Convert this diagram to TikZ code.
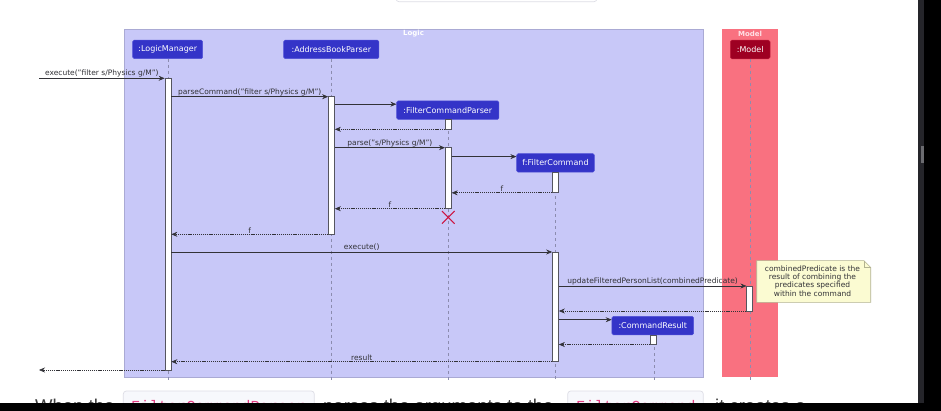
\documentclass[tikz,border=0pt]{standalone}
\usepackage{fontspec}
\setmainfont{DejaVu Sans}
\newfontfamily\pagefont{Liberation Sans}
\newfontfamily\codefont{Liberation Mono}
\usetikzlibrary{arrows.meta}

\definecolor{logicbg}{RGB}{200,200,248}
\definecolor{logicline}{RGB}{170,170,212}
\definecolor{modelbg}{RGB}{249,113,128}
\definecolor{modeltitle}{RGB}{255,225,230}
\definecolor{hdrblue}{RGB}{52,52,200}
\definecolor{hdrblueline}{RGB}{80,80,215}
\definecolor{hdrred}{RGB}{158,0,34}
\definecolor{hdrredline}{RGB}{190,30,60}
\definecolor{lifegray}{RGB}{140,140,175}
\definecolor{msgcol}{RGB}{50,50,55}
\definecolor{actline}{RGB}{85,85,95}
\definecolor{killred}{RGB}{205,20,65}
\definecolor{notebg}{RGB}{251,251,210}
\definecolor{noteline}{RGB}{178,178,145}
\definecolor{pagetext}{RGB}{60,60,60}
\definecolor{codebg}{RGB}{247,248,252}
\definecolor{codeline}{RGB}{222,222,230}
\definecolor{codepink}{RGB}{226,62,130}
\definecolor{scrollbg}{RGB}{37,37,42}
\definecolor{scrollthumb}{RGB}{108,108,112}

\tikzset{
  participant/.style={rectangle, rounded corners=1.5pt, inner sep=0pt,
    minimum height=18.6pt, text=white, font=\fontsize{8}{9}\selectfont},
  blueparticipant/.style={participant, fill=hdrblue, draw=hdrblueline, line width=0.5pt},
  redparticipant/.style={participant, fill=hdrred, draw=hdrredline, line width=0.5pt},
  actbox/.style={rectangle, draw=actline, fill=white, line width=0.7pt,
    inner sep=0pt, minimum width=6pt},
  lifeline/.style={draw=lifegray, dash pattern=on 3pt off 3pt, line width=0.5pt},
  msg/.style={draw=msgcol, line width=0.6pt,
    -{Stealth[length=6pt,width=5pt,inset=2pt]}},
  ret/.style={msg, dash pattern=on 1.2pt off 0.9pt},
  lbl/.style={font=\fontsize{7.5}{8}\selectfont, text=msgcol, inner sep=0.8pt, above},
  grouptitle/.style={font=\bfseries\fontsize{7}{8}\selectfont, inner sep=0pt},
  pagetxt/.style={anchor=base west, inner sep=0pt, text=pagetext,
    font=\pagefont\fontsize{18.5}{20}\selectfont},
  codetxt/.style={anchor=base west, inner sep=0pt, text=codepink,
    font=\codefont\fontsize{15.3}{17}\selectfont},
  codebox/.style={draw=codeline, fill=codebg, rounded corners=3pt, line width=0.7pt}
}

\begin{document}
\begin{tikzpicture}[x=1pt,y=-1pt]
\useasboundingbox (0,0) rectangle (941,411);
\fill[white] (0,0) rectangle (941,411);

% bottom edge of a box above the figure
\draw[draw=codeline, rounded corners=3pt, line width=0.7pt] (396,-10) rectangle (597,1.7);

% package frames
\draw[fill=logicbg, draw=logicline, line width=0.6pt] (124,29) rectangle (703,377.3);
\node[grouptitle, text=white] (logictitle) at (413.5,33.5) {Logic};
\fill[modelbg] (722,29) rectangle (778,377.3);
\node[grouptitle, text=modeltitle] (modeltitle) at (750,33.5) {Model};

% lifelines
\draw[lifeline] (168,58.7) -- (168,381);
\draw[lifeline] (331.5,58.7) -- (331.5,381);
\draw[lifeline] (448.3,119.3) -- (448.3,381);
\draw[lifeline] (555.5,172.4) -- (555.5,381);
\draw[lifeline] (653.8,335) -- (653.8,381);
\draw[lifeline] (750,59) -- (750,381);

% participants
\node[blueparticipant, minimum width=70pt] (lm) at (167.7,49.4) {:LogicManager};
\node[blueparticipant, minimum width=95.3pt] (abp) at (331.3,49.4) {:AddressBookParser};
\node[blueparticipant, minimum width=102.3pt] (fcp) at (447.8,110.2) {:FilterCommandParser};
\node[blueparticipant, minimum width=77.7pt] (fc) at (555.5,162.9) {f:FilterCommand};
\node[blueparticipant, minimum width=81.7pt] (cr) at (652.8,325.6) {:CommandResult};
\node[redparticipant, minimum width=39.7pt] (mdl) at (750.2,49.5) {:Model};

% activation bars
\node[actbox, minimum height=291.7pt] (lmA) at (168,224.15) {};
\node[actbox, minimum height=137.6pt] (abpA) at (331.5,165.5) {};
\node[actbox, minimum height=10pt] (fcpA1) at (448.3,124.3) {};
\node[actbox, minimum height=61pt] (fcpA2) at (448.3,178.2) {};
\node[actbox, minimum height=20.4pt] (fcA1) at (555.5,182.6) {};
\node[actbox, minimum height=109.7pt] (fcA2) at (555.5,306.85) {};
\node[actbox, minimum height=25pt] (mdA) at (749.8,298.5) {};
\node[actbox, minimum height=9.5pt] (crA) at (653.8,339.75) {};

% message levels
\coordinate (inStart) at (39,78.3);
\coordinate (outEnd) at (39,370);
\coordinate (y1) at (0,96.7);
\coordinate (y2) at (0,104.2);
\coordinate (y3) at (0,129.3);
\coordinate (y4) at (0,147.7);
\coordinate (y5) at (0,156.6);
\coordinate (y6) at (0,192.8);
\coordinate (y7) at (0,208.7);
\coordinate (y8) at (0,234.3);
\coordinate (y9) at (0,252);
\coordinate (y10) at (0,286);
\coordinate (y11) at (0,311);
\coordinate (y12) at (0,319.7);
\coordinate (y13) at (0,344.5);
\coordinate (y14) at (0,361.7);

% messages
\draw[msg] (inStart) -- (lmA.west |- inStart)
  node[lbl, midway] {execute("filter s/Physics g/M")};
\draw[msg] (lmA.east |- y1) -- (abpA.west |- y1)
  node[lbl, midway] {parseCommand("filter s/Physics g/M")};
\draw[msg] (abpA.east |- y2) -- (fcp.west |- y2);
\draw[ret] (fcpA1.west |- y3) -- (abpA.east |- y3);
\draw[msg] (abpA.east |- y4) -- (fcpA2.west |- y4)
  node[lbl, midway] {parse("s/Physics g/M")};
\draw[msg] (fcpA2.east |- y5) -- (fc.west |- y5);
\draw[ret] (fcA1.west |- y6) -- (fcpA2.east |- y6) node[lbl, midway] {f};
\draw[ret] (fcpA2.west |- y7) -- (abpA.east |- y7) node[lbl, midway] {f};
\draw[ret] (abpA.west |- y8) -- (lmA.east |- y8) node[lbl, midway] {f};
\draw[msg] (lmA.east |- y9) -- (fcA2.west |- y9) node[lbl, midway] {execute()};
\draw[msg] (fcA2.east |- y10) -- (mdA.west |- y10)
  node[lbl, midway] {updateFilteredPersonList(combinedPredicate)};
\draw[ret] (mdA.west |- y11) -- (fcA2.east |- y11);
\draw[msg] (fcA2.east |- y12) -- (cr.west |- y12);
\draw[ret] (crA.west |- y13) -- (fcA2.east |- y13);
\draw[ret] (fcA2.west |- y14) -- (lmA.east |- y14) node[lbl, midway] {result};
\draw[ret] (lmA.west |- outEnd) -- (outEnd);

% destruction of the parser
\coordinate (kill) at (448.3,217.4);
\draw[killred, line width=1.1pt] ([shift={(-6.3pt,6.3pt)}]kill) -- ([shift={(6.3pt,-6.3pt)}]kill)
  ([shift={(-6.3pt,-6.3pt)}]kill) -- ([shift={(6.3pt,6.3pt)}]kill);

% note
\draw[fill=notebg, draw=noteline, line width=0.6pt]
  (756.7,260.7) -- (864,260.7) -- (870.7,267.4) -- (870.7,302.3) -- (756.7,302.3) -- cycle;
\draw[draw=noteline, line width=0.6pt] (864,260.7) -- (864,267.4) -- (870.7,267.4);
\node[align=center, inner sep=0pt, text=msgcol, font=\fontsize{7.5}{8.2}\selectfont]
  (note) at (812.5,281) {combinedPredicate is the\\result of combining the\\predicates specified\\within the command};

% text of the page below the figure
\draw[codebox] (123.3,391) rectangle (314.3,425);
\draw[codebox] (567.7,391) rectangle (703.3,425);
\node[pagetxt] (w1) at (35,412) {When the};
\node[codetxt] (c1) at (131,411) {FilterCommandParser};
\node[pagetxt] (w2) at (323,412) {parses the arguments to the};
\node[codetxt] (c2) at (576,411) {FilterCommand};
\node[pagetxt] (w3) at (715,412) {it creates a};

% window edges
\fill[scrollbg] (917.7,0) rectangle (924,402.7);
\fill[scrollthumb] (921,146) rectangle (924,162.7);
\fill[black] (924,0) rectangle (941,411);
\fill[black] (0,402.7) rectangle (941,411);
\end{tikzpicture}
\end{document}
